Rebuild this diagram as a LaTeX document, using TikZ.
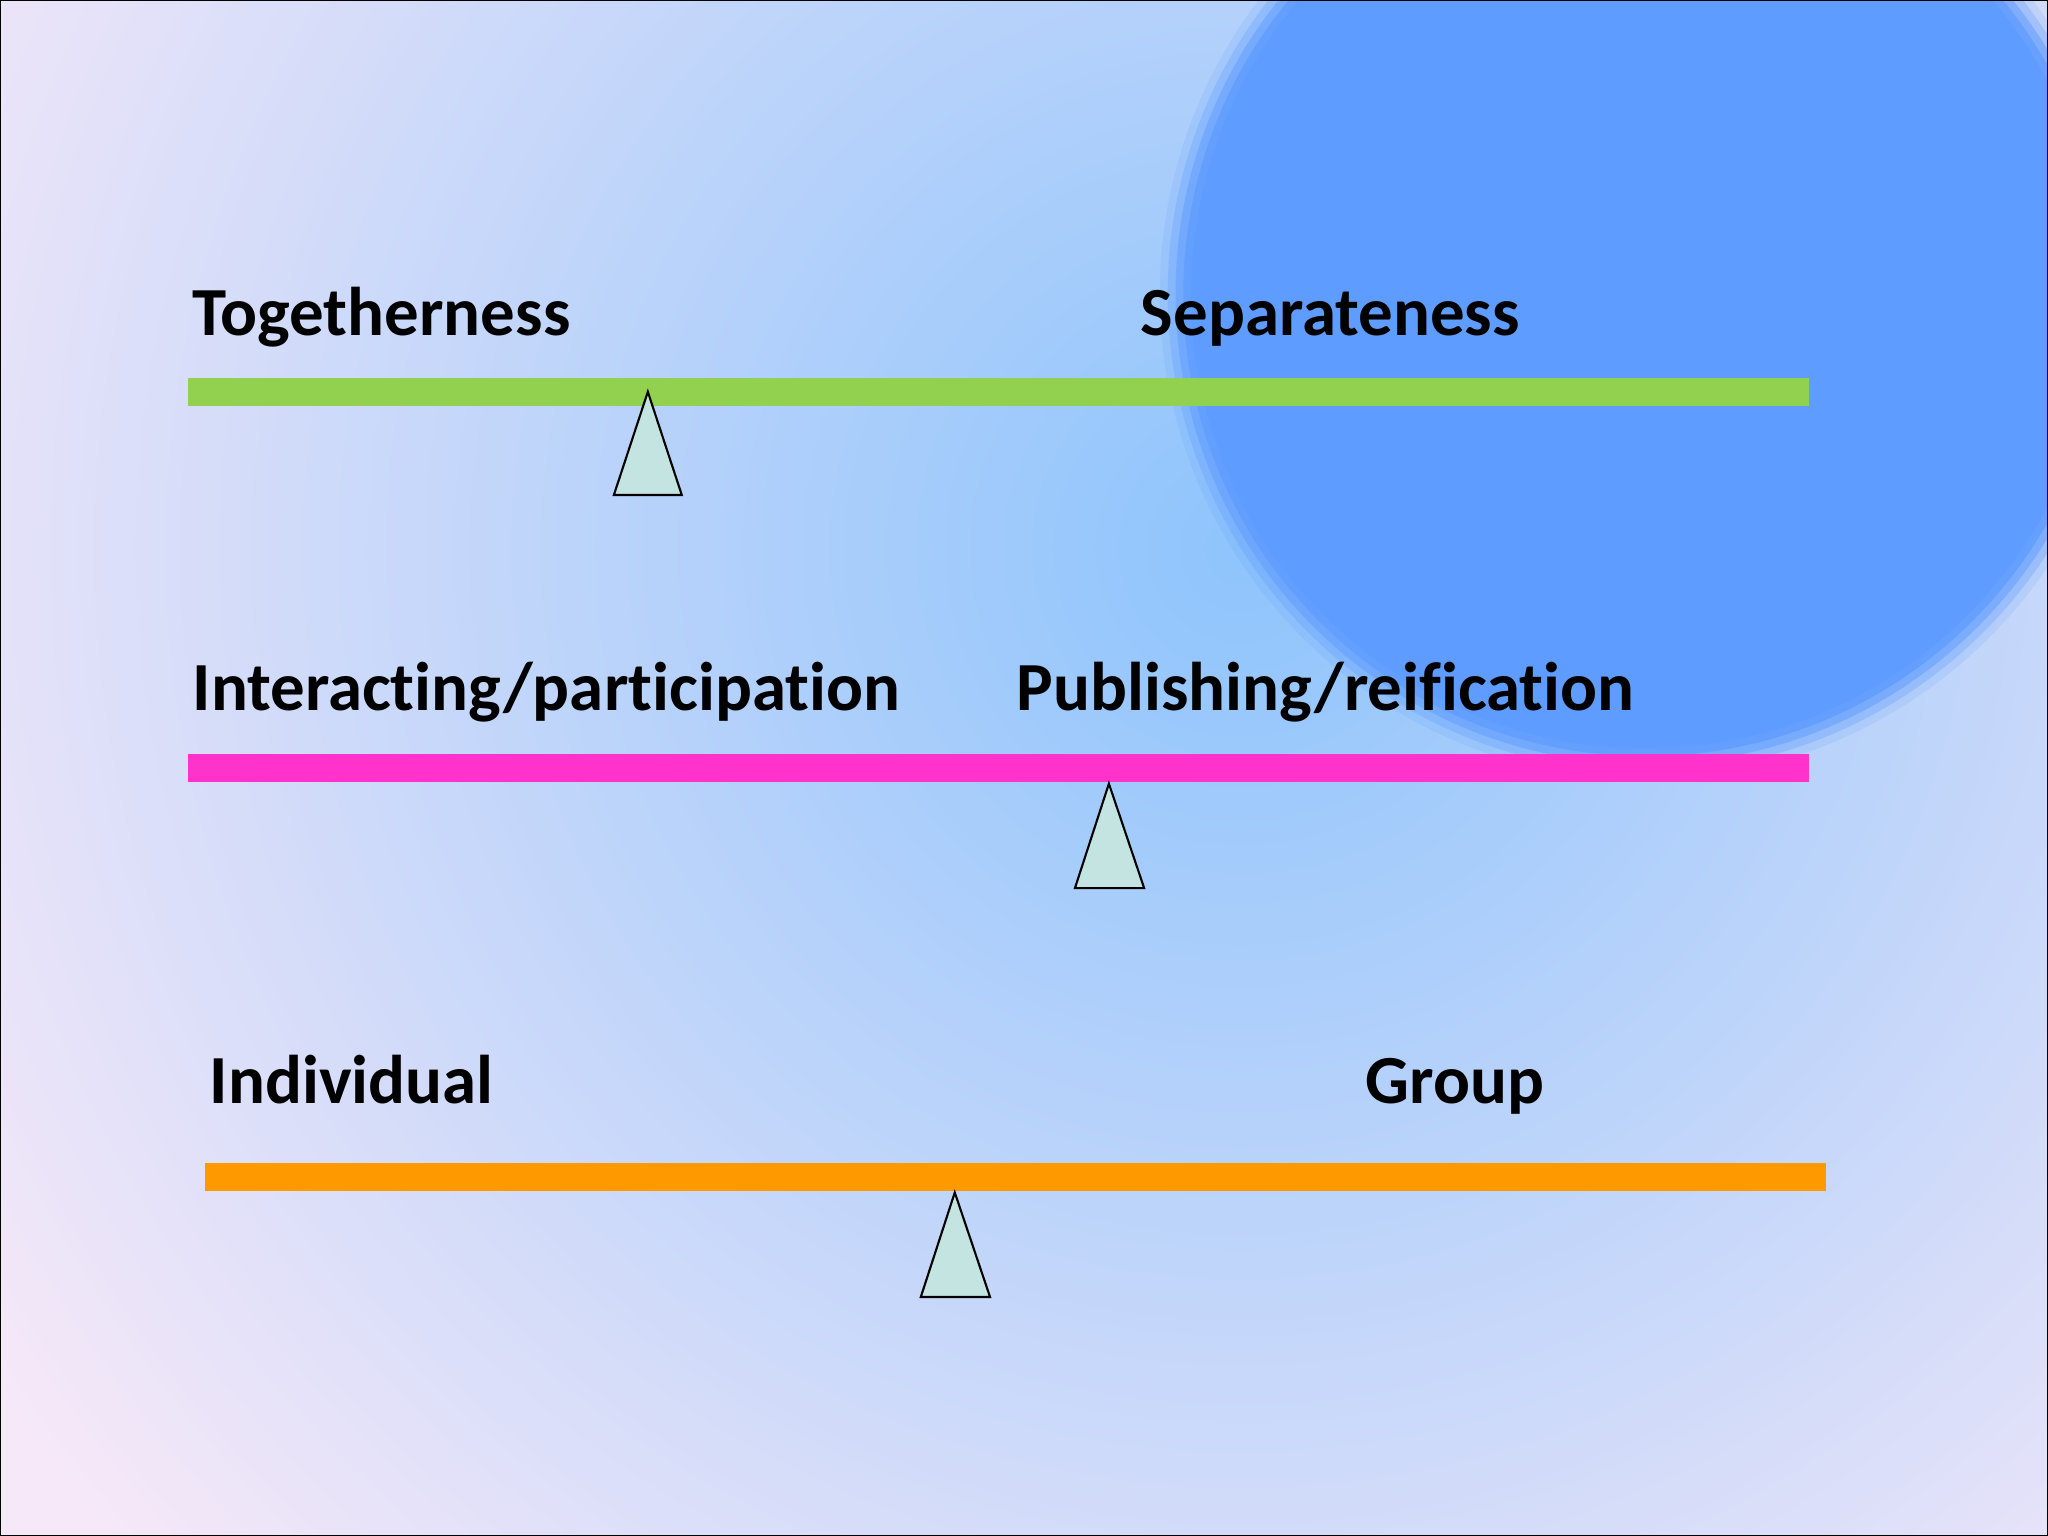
\documentclass[tikz,border=0pt]{standalone}
\usepackage{fontspec}
\setmainfont[Ligatures=NoCommon]{Carlito}
\definecolor{bgin}{HTML}{8EC4FC}
\definecolor{bgout}{HTML}{F6E8F8}
\definecolor{blob}{HTML}{5F9CFF}
\definecolor{gbar}{HTML}{92D050}
\definecolor{pbar}{HTML}{FF33CC}
\definecolor{obar}{HTML}{FF9900}
\definecolor{tri}{HTML}{C4E4E2}
\begin{document}
\begin{tikzpicture}[x=0.013061cm,y=-0.013061cm,
  lbl/.style={anchor=base west,inner sep=0pt,font=\fontsize{19.6}{24}\selectfont\bfseries},
  barline/.style={line width=0.274cm},
  fulcrum/.style={draw=black,fill=tri,line width=0.6pt}]
\useasboundingbox (0,0) rectangle (1568,1176);
\begin{scope}
\clip (0,0) rectangle (1568,1176);
\fill[bgout] (0,0) rectangle (1568,1176);
\shade[inner color=bgin,outer color=bgout] (950,420) circle (1150);
\foreach \r/\o in {372/0.15,366/0.3,360/0.5,354/0.75,348/1}
  \fill[blob,opacity=\o] (1260,225) circle (\r);
\end{scope}
\draw[black,line width=0.8pt] (0,0) rectangle (1568,1176);
% bars
\coordinate (g1) at (144,300); \coordinate (g2) at (1385,300);
\coordinate (p1) at (144,588); \coordinate (p2) at (1385,588);
\coordinate (o1) at (157,901); \coordinate (o2) at (1398,901);
\draw[barline,gbar] (g1) -- (g2);
\draw[barline,pbar] (p1) -- (p2);
\draw[barline,obar] (o1) -- (o2);
% fulcrums
\draw[fulcrum] (496,300) -- (522,379) -- (470,379) -- cycle;
\draw[fulcrum] (849,600) -- (876,680) -- (823,680) -- cycle;
\draw[fulcrum] (731,913) -- (758,993) -- (705,993) -- cycle;
% labels
\node[lbl] (t) at (147,257) {Togetherness};
\node[lbl] (s) at (873,257) {Separateness};
\node[lbl] (i) at (147,544) {Interacting/participation};
\node[lbl] (pb) at (778,544) {Publishing/reification};
\node[lbl] (ind) at (160,845) {Individual};
\node[lbl] (gr) at (1045,845) {Group};
\end{tikzpicture}
\end{document}
